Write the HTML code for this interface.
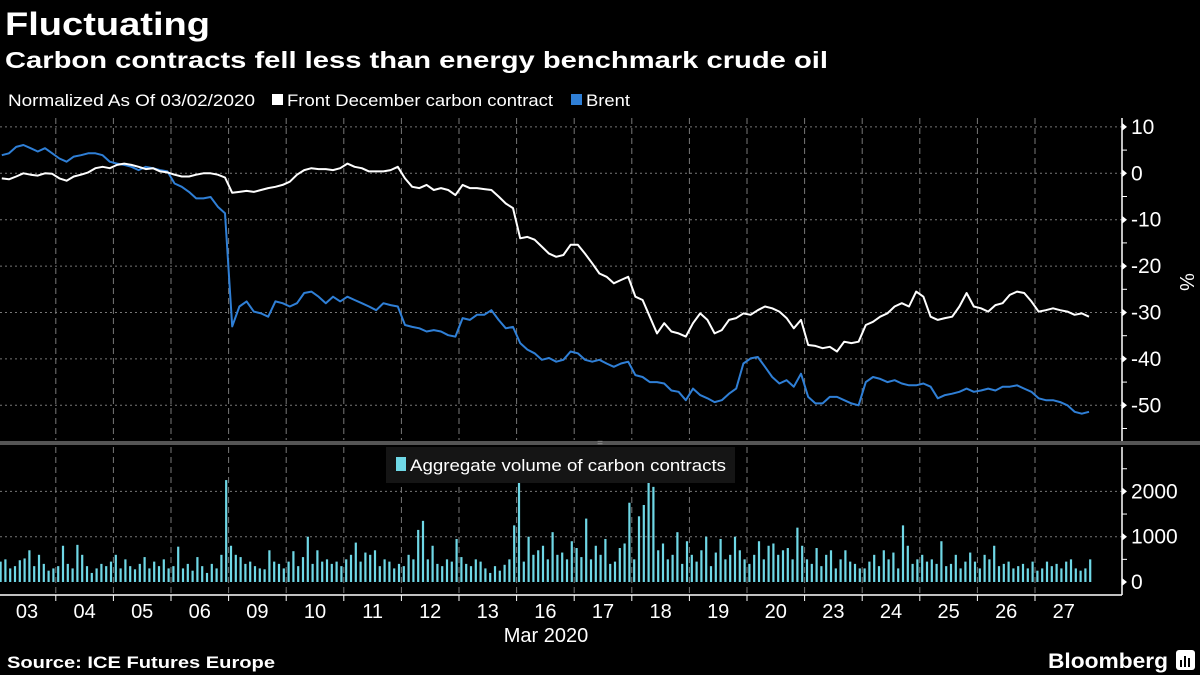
<!DOCTYPE html>
<html><head><meta charset="utf-8">
<style>
html,body{margin:0;padding:0;background:#000;}
svg{display:block;font-family:"Liberation Sans Narrow","Liberation Sans",sans-serif;}
</style></head>
<body>
<svg id="chart" width="1200" height="675" viewBox="0 0 1200 675" xmlns="http://www.w3.org/2000/svg">
<rect width="1200" height="675" fill="#000"/>
<text x="5" y="35" fill="#fff" font-family="Liberation Sans, sans-serif" font-weight="bold" font-size="32" textLength="205" lengthAdjust="spacingAndGlyphs">Fluctuating</text>
<text x="5" y="68" fill="#fff" font-family="Liberation Sans, sans-serif" font-weight="bold" font-size="23" textLength="823" lengthAdjust="spacingAndGlyphs">Carbon contracts fell less than energy benchmark crude oil</text>
<g>
<text x="8" y="106" fill="#fff" font-size="17" textLength="247" lengthAdjust="spacingAndGlyphs">Normalized As Of 03/02/2020</text>
<rect x="272" y="94" width="11" height="11" fill="#fff"/>
<text x="287" y="106" fill="#fff" font-size="17" textLength="266" lengthAdjust="spacingAndGlyphs">Front December carbon contract</text>
<rect x="571" y="94" width="11" height="11" fill="#2f7fd6"/>
<text x="586" y="106" fill="#fff" font-size="17" textLength="44" lengthAdjust="spacingAndGlyphs">Brent</text>
</g>
<g id="grid"></g>
<g id="upper"></g>
<g id="lower"></g>
<g id="axes"></g>
<rect x="0" y="441" width="1200" height="4" fill="#555"/>
<text x="600" y="446" fill="#999" font-size="10" text-anchor="middle">=</text>
<g>
<rect x="386" y="447" width="349" height="36" fill="#151515"/>
<rect x="396" y="457" width="10" height="14" fill="#6fd8e6"/>
<text x="410" y="471" fill="#fff" font-size="17" textLength="316" lengthAdjust="spacingAndGlyphs">Aggregate volume of carbon contracts</text>
</g>
<text x="546" y="642" fill="#fff" font-size="20" text-anchor="middle">Mar 2020</text>
<text x="7" y="668" fill="#fff" font-family="Liberation Sans, sans-serif" font-weight="bold" font-size="17" textLength="268" lengthAdjust="spacingAndGlyphs">Source: ICE Futures Europe</text>
<text x="1048" y="668" fill="#fff" font-family="Liberation Sans, sans-serif" font-weight="bold" font-size="21" textLength="120" lengthAdjust="spacingAndGlyphs">Bloomberg</text>
<g>
<rect x="1176" y="650" width="19" height="20" rx="3" fill="#fff"/>
<rect x="1180" y="660" width="2" height="7" fill="#000"/><rect x="1184" y="656" width="2" height="11" fill="#000"/><rect x="1188" y="658" width="2" height="9" fill="#000"/>
</g>
</svg>
<script>
const days = ["03","04","05","06","09","10","11","12","13","16","17","18","19","20","23","24","25","26","27"];
const carbon = [
-1.1,-1.3,-0.7,0,-0.3,-0.5,0,-0.1,
-1.1,-1.6,-0.7,-0.3,0.2,1.1,1.4,1.1,
1.8,2.1,1.8,1.4,0.9,1.1,0.4,0.2,
-0.3,-0.7,-0.7,-0.3,0,0,-0.3,-0.9,
-4.2,-4,-3.8,-4,-3.6,-3.2,-2.9,-2.5,
-1.8,-0.3,0.7,1.1,0.9,0.9,0.7,1.1,
2.1,1.4,1.1,0.4,0.4,0.4,0.7,1.4,
-1.1,-2.9,-3.2,-2.5,-3.6,-3.2,-3.6,-4.7,
-2.5,-3.2,-3.2,-3.4,-3.6,-5,-6.5,-7.5,
-14,-13.7,-14.3,-15.8,-17.3,-18,-17.6,-15.4,
-15.4,-17.3,-19.4,-21.6,-22.3,-23.7,-23,-22.3,
-26.6,-27.3,-30.9,-34.5,-32.3,-34.1,-34.5,-35.2,
-32.3,-30.2,-31.6,-34.5,-33.8,-31.6,-31.2,-30.2,
-30.5,-29.5,-28.7,-29.1,-29.8,-31.2,-33.4,-31.6,
-37,-37.2,-37.7,-37.4,-38.4,-36.3,-36.6,-36.3,
-32.7,-32,-30.9,-30.2,-28.7,-28,-28.7,-25.5,
-26.6,-30.9,-31.6,-31.2,-30.9,-28.7,-25.8,-28.7,
-29.1,-29.8,-28.4,-28,-26.2,-25.5,-25.8,-27.6,
-29.8,-29.5,-29.1,-29.5,-29.8,-30.5,-30.2,-30.9];
const brent = [
3.9,4.3,5.7,6.1,5.4,4.7,5.4,4.3,
3.2,2.5,3.6,3.9,4.3,4.3,3.9,2.5,
2.1,1.8,1.4,0.7,1.4,1.1,0.7,0.4,
-2.2,-2.9,-4,-5.4,-5.4,-5.1,-7.2,-8.6,
-33,-28.7,-27.6,-29.8,-30.2,-30.9,-27.6,-28,
-28.7,-28,-25.8,-25.5,-26.6,-28,-26.6,-27.6,
-26.6,-27.3,-28,-28.7,-29.5,-28,-28.4,-28.7,
-32.7,-33.1,-33.4,-34.1,-33.8,-34.1,-34.9,-35.2,
-31.2,-31.6,-30.5,-30.5,-29.5,-31.6,-33.4,-33.1,
-36.6,-38,-38.8,-40.2,-39.8,-40.6,-40.2,-38.4,
-38.8,-40.2,-40.6,-40.2,-41,-41.7,-41,-40.6,
-43.5,-43.9,-45,-45,-45.3,-46.8,-47.1,-48.9,
-46.4,-47.8,-48.5,-49.3,-48.9,-47.5,-46.4,-41,
-39.9,-39.6,-41.7,-43.9,-45.3,-44.6,-46,-43.2,
-48.2,-49.6,-49.6,-48.2,-48.2,-48.9,-49.6,-50,
-45,-43.9,-44.3,-45,-44.6,-45.3,-45.7,-45.7,
-45.3,-46,-48.5,-47.8,-47.5,-47.1,-46.4,-47.1,
-46.8,-46.4,-46.8,-46,-46,-45.7,-46.4,-47.1,
-48.5,-48.9,-48.9,-49.3,-50,-51.4,-51.8,-51.4];
const volume = [
450,500,300,350,480,520,700,350,600,400,250,300,
350,800,400,300,820,600,350,200,300,400,350,450,
600,300,500,350,280,400,550,300,450,350,500,300,
350,780,300,400,250,550,350,200,400,300,600,2250,
800,600,550,400,450,350,300,280,700,450,400,300,
450,680,350,550,1000,400,700,450,500,400,450,350,
500,600,870,450,650,600,700,350,500,450,300,400,
350,600,500,1150,1350,500,800,400,350,500,450,950,
550,400,350,500,450,300,200,350,250,380,500,1250,
2700,450,1000,600,700,800,500,1100,600,650,500,900,
750,550,1400,500,800,600,950,400,450,750,850,1750,
500,1450,1700,2200,2100,700,850,500,600,1100,400,900,
600,450,700,1000,350,650,950,500,600,1000,700,500,
400,600,900,500,800,850,600,700,750,500,1200,800,
500,400,750,350,600,700,300,500,700,450,400,300,
300,450,600,350,700,500,650,300,1250,800,400,500,
600,450,500,400,900,350,400,600,300,450,650,450,
300,600,500,800,350,400,450,300,350,400,300,450,
250,300,450,350,400,300,450,500,300,250,300,500];
const pctTicks = [10,0,-10,-20,-30,-40,-50];
const volTicks = [0,1000,2000];

const NS="http://www.w3.org/2000/svg";
const DAYW=57.6, X0=-1.8, AXX=1122;
function dayX(d){return X0+DAYW*d;}
function xLine(i,n){return X0+DAYW*(i+0.5)/n;}
function yPct(v){return 173.3-v*4.64;}
function yVol(v){return 582-v*0.0453;}
function el(tag,attrs,parent){const e=document.createElementNS(NS,tag);for(const k in attrs)e.setAttribute(k,attrs[k]);parent.appendChild(e);return e;}
const grid=document.getElementById('grid'),upper=document.getElementById('upper'),lower=document.getElementById('lower'),axes=document.getElementById('axes');

// vertical gridlines
for(let d=1;d<days.length;d++){
  const x=dayX(d);
  const g1=el('line',{x1:x,x2:x,y1:118,y2:440,stroke:'#777','stroke-width':1,'stroke-dasharray':'6,4'},grid);
  
  
  const g2=el('line',{x1:x,x2:x,y1:447,y2:594,stroke:'#777','stroke-width':1,'stroke-dasharray':'6,4'},grid);
  
  
}
// horizontal gridlines + tick labels upper
pctTicks.forEach(t=>{
  const y=yPct(t);
  const h=el('line',{x1:0,x2:AXX,y1:y,y2:y,stroke:'#777','stroke-width':1,'stroke-dasharray':'2,3'},grid);
  
  
  el('path',{d:`M${AXX} ${y-4}L${AXX+5} ${y}L${AXX} ${y+4}Z`,fill:'#fff'},axes);
  const tx=el('text',{x:AXX+9,y:y+7,fill:'#fff','font-size':21},axes);
  tx.textContent=t<0?('-'+Math.abs(t)):String(t);
  
  
});
for(let t=15;t>=-55;t-=10){const y=yPct(t);if(y>118&&y<440)el('line',{x1:AXX,x2:AXX+5,y1:y,y2:y,stroke:'#fff'},axes);}
const yax=el('line',{x1:AXX,x2:AXX,y1:118,y2:441,stroke:'#fff','stroke-width':1.5},axes);


const pctT=el('text',{x:1180,y:282,fill:'#fff','font-size':20,transform:'rotate(90 1180 282)','text-anchor':'middle'},axes);
pctT.textContent='%';



// lower axis
volTicks.forEach(t=>{
  const y=yVol(t);
  if(t>0){const h=el('line',{x1:0,x2:AXX,y1:y,y2:y,stroke:'#777','stroke-width':1,'stroke-dasharray':'2,3'},grid);
  
  }
  el('path',{d:`M${AXX} ${y-4}L${AXX+5} ${y}L${AXX} ${y+4}Z`,fill:'#fff'},axes);
  const tx=el('text',{x:AXX+9,y:y+7,fill:'#fff','font-size':21},axes);
  tx.textContent=String(t);
  
  
});
for(let t=500;t<=2500;t+=1000)el('line',{x1:AXX,x2:AXX+5,y1:yVol(t),y2:yVol(t),stroke:'#fff'},axes);
const vax=el('line',{x1:AXX,x2:AXX,y1:447,y2:595,stroke:'#fff','stroke-width':1.5},axes);


const xax=el('line',{x1:0,x2:AXX,y1:595,y2:595,stroke:'#fff','stroke-width':1.5},axes);


days.forEach((d,i)=>{
  const x=dayX(i);
  if(i>0)el('line',{x1:x,x2:x,y1:595,y2:601,stroke:'#fff'},axes);
  const tx=el('text',{x:x+DAYW/2,y:618,fill:'#fff','font-size':20,'text-anchor':'middle'},axes);
  tx.textContent=d;
  
  
});

// bars
const perDayV=volume.length/days.length;
volume.forEach((v,i)=>{
  const x=xLine(i,perDayV);
  const y=Math.max(yVol(v),447);
  const b=el('rect',{x:x-1.1,y:y,width:2.2,height:582-y,fill:'#6fd8e6'},lower);
  
  
});

// lines
function drawLine(arr,color,name){
  const n=arr.length/days.length;
  const d=arr.map((v,i)=>(i?'L':'M')+xLine(i,n).toFixed(1)+' '+yPct(v).toFixed(1)).join('');
  const p=el('path',{d:d,fill:'none',stroke:color,'stroke-width':2,'stroke-linejoin':'round'},upper);
  
  
}
drawLine(brent,'#2f7fd6','brent-line');
drawLine(carbon,'#ffffff','carbon-contract-line');
</script>
</body></html>
